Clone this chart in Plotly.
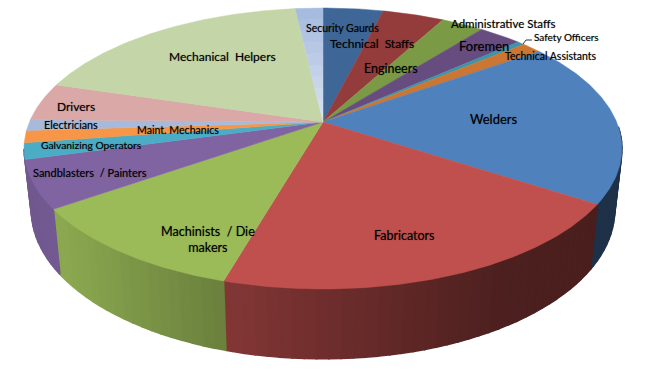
import numpy as np
import plotly.graph_objects as go

categories = ["Technical Staffs", "Engineers", "Administrative Staffs", "Foremen",
              "Safety Officers", "Technical Assistants", "Welders", "Fabricators",
              "Machinists / Die makers", "Sandblasters / Painters", "Galvanizing Operators",
              "Maint. Mechanics", "Electricians", "Drivers", "Mechanical Helpers", "Security Gaurds"]
values = [3.9, 4.0, 2.75, 2.8, 0.45, 1.3, 19.0, 20.3, 10.8, 5.5, 1.85, 1.4, 1.25, 4.4, 18.55, 1.8]
colors = ["#3E6797", "#943C3B", "#7A9A46", "#674C80", "#3D95AA", "#CC7633",
          "#4F81BD", "#C0504D", "#9BBB59", "#8064A2", "#4BACC6", "#F79646",
          "#A7BADB", "#D9A8A7", "#C4D5A8", "#A4BADF"]

# view of the 3-D disc
CX, CY, A, R, K, M, D = 323, 122, 293.6, 135.5, 0.1886, 0.025, 60


def proj(t, z=0.0):
    t = np.radians(t)
    u, v = np.sin(t), np.cos(t)
    w = 1 + K * v
    s = 1 + M * z
    return CX + A * u / (w * s), CY - R * v / (w * s) + D * z / w


def rgb(c, f=1.0):
    c = c.lstrip("#")
    r, g, b = [int(c[i:i + 2], 16) for i in (0, 2, 4)]
    return f"rgb({r * f:.0f},{g * f:.0f},{b * f:.0f})"


def poly(fig, xs, ys, color, name, lw=0.5):
    fig.add_trace(go.Scatter(x=list(xs), y=list(ys), mode="lines", fill="toself", fillcolor=color,
                             line=dict(color=color, width=lw), name=name, hoverinfo="skip",
                             showlegend=False))


fig = go.Figure()
edges = np.concatenate([[0], np.cumsum(values)]) / sum(values) * 360

# side walls: the Sandblasters wall closes the visible rim on the left
for i, name in enumerate(categories):
    if name == "Galvanizing Operators":
        break
    a = max(edges[i], 92)
    b = 259 if name == "Sandblasters / Painters" else edges[i + 1]
    if b <= a:
        continue
    ts = np.arange(a, b, 2.0)
    ts = np.append(ts, b)
    for t1, t2 in zip(ts[:-1], ts[1:]):
        x1, y1 = proj(t1)
        x2, y2 = proj(t2)
        x3, y3 = proj(t2, 1)
        x4, y4 = proj(t1, 1)
        f = float(np.interp((x1 + x2) / 2, [25, 60, 225, 400, 500, 600], [0.88, 0.9, 0.68, 0.5, 0.4, 0.38]))
        poly(fig, [x1, x2, x3, x4, x1], [y1, y2, y3, y4, y1], rgb(colors[i], f), name, 1.5)

# top face
for i, name in enumerate(categories):
    ts = np.linspace(edges[i], edges[i + 1], max(3, int(edges[i + 1] - edges[i]) * 2))
    x, y = proj(ts)
    if name == "Security Gaurds":
        for j in range(10):
            r1, r2 = j / 10, (j + 1) / 10
            mix = 0.6 * (1 - (r1 + r2) / 2)
            c = tuple(int(int(colors[i][k:k + 2], 16) * (1 - mix) + 255 * mix) for k in (1, 3, 5))
            xs = np.concatenate([CX + (x - CX) * r1, (CX + (x - CX) * r2)[::-1]])
            ys = np.concatenate([CY + (y - CY) * r1, (CY + (y - CY) * r2)[::-1]])
            poly(fig, xs, ys, "rgb(%d,%d,%d)" % c, name)
    else:
        poly(fig, [CX, *x, CX], [CY, *y, CY], colors[i], name)

# leader line for Safety Officers
fig.add_trace(go.Scatter(x=[523, 526, 532], y=[44, 40, 40], mode="lines",
                         line=dict(color="#333333", width=1), hoverinfo="skip", showlegend=False))

labels = [
    ("Security Gaurds", 342, 28, 10.5), ("Technical  Staffs", 372, 43, 12),
    ("Engineers", 391, 68, 12.5), ("Administrative Staffs", 503, 23, 11.5),
    ("Foremen", 484, 45.5, 13), ("Safety Officers", 566, 37, 10),
    ("Technical Assistants", 551, 56, 10.5), ("Welders", 493, 119, 13),
    ("Fabricators", 404, 235, 12.5), ("Machinists  / Die<br>makers", 208, 239, 12.6),
    ("Sandblasters  / Painters", 90, 172, 11), ("Galvanizing Operators", 91, 145, 10.3),
    ("Maint. Mechanics", 178, 130, 10.6), ("Electricians", 71, 124, 10.8),
    ("Drivers", 76, 106, 12), ("Mechanical  Helpers", 222, 56, 12),
]
for text, x, y, size in labels:
    fig.add_annotation(x=x, y=y, xref="x", yref="y", text=text, showarrow=False,
                       font=dict(family="Lato", size=size, color="#000000",
                                 shadow="0 0 1px rgba(0,0,0,0.45)"), align="center")

fig.update_layout(width=655, height=376, margin=dict(l=0, r=0, t=0, b=0),
                  paper_bgcolor="white", plot_bgcolor="white",
                  xaxis=dict(range=[0, 655], visible=False, fixedrange=True),
                  yaxis=dict(range=[376, 0], visible=False, fixedrange=True))
fig.write_html("out.html", config={"displayModeBar": False},
               post_script="document.body.style.margin='0';document.documentElement.style.overflow='hidden';")
